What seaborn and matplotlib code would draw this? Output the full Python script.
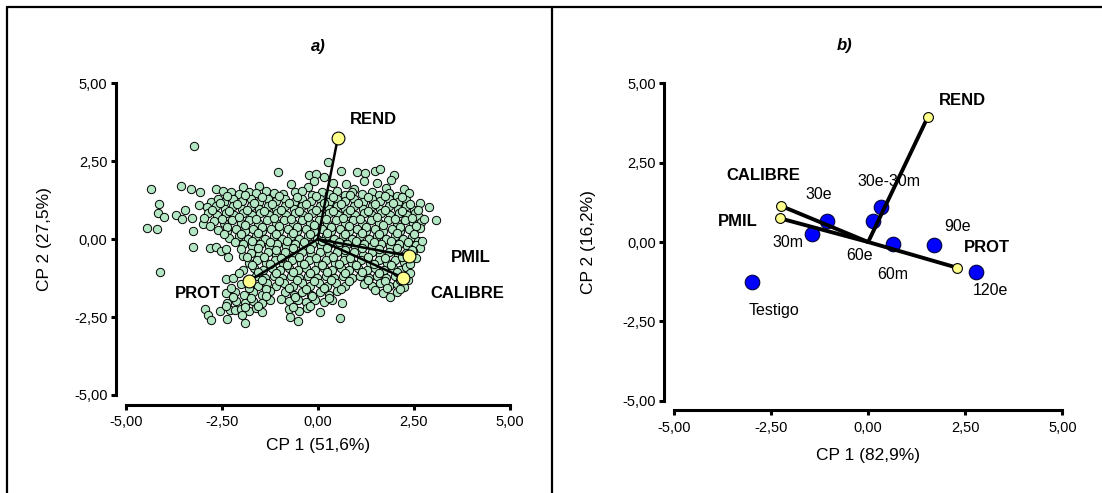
import matplotlib
matplotlib.use("Agg")
import matplotlib.pyplot as plt
import matplotlib.ticker as mticker
from matplotlib.lines import Line2D
import seaborn as sns

# ---- a) observaciones (CP1, CP2) ----
obs_a = [
    (0.26, 2.47), (-3.21, 3.00), (-4.35, 1.60), (-4.10, -1.07),
    (-1.03, 2.15), (-0.23, 2.06), (-0.05, 2.10), (0.60, 2.17), (1.01, 2.15), (1.24, 2.13),
    (1.48, 2.17), (1.63, 2.26), (1.99, 2.05), (0.15, 2.00),
    (-3.56, 1.71), (-3.30, 1.62), (-0.70, 1.77), (0.73, 1.76), (1.90, 1.89), (1.20, 1.85),
    (0.40, 1.80), (-0.10, 1.85), (1.55, 1.80), (-1.52, 1.71), (-1.95, 1.66), (-2.66, 1.62),
    (-0.25, 1.66), (2.23, 1.62), (0.95, 1.62), (1.78, 1.65),
    (-3.07, 1.52), (-2.47, 1.54), (-2.25, 1.50), (-2.05, 1.45), (-1.80, 1.52), (-1.60, 1.47),
    (-1.35, 1.55), (-1.15, 1.48), (-0.90, 1.45), (-0.60, 1.50), (-0.40, 1.55), (-0.15, 1.42),
    (0.10, 1.52), (0.30, 1.45), (0.50, 1.55), (0.70, 1.40), (0.90, 1.50), (1.15, 1.45),
    (1.40, 1.52), (1.60, 1.42), (1.85, 1.48), (2.05, 1.38), (2.38, 1.47),
    (-3.10, 1.10), (-2.78, 1.20), (-2.43, 1.20), (-2.60, 1.30), (-2.20, 1.28), (-1.98, 1.22),
    (-1.75, 1.30), (-1.52, 1.20), (-1.30, 1.28), (-1.08, 1.22), (-0.85, 1.30), (-0.62, 1.20),
    (-0.40, 1.28), (-0.18, 1.22), (0.05, 1.30), (0.28, 1.20), (0.50, 1.28), (0.72, 1.22),
    (0.95, 1.30), (1.18, 1.20), (1.40, 1.28), (1.62, 1.22), (1.85, 1.30), (2.08, 1.18),
    (2.30, 1.25), (2.66, 1.17), (2.90, 1.04),
    (-4.12, 1.13), (-3.46, 0.94), (-2.88, 1.02), (-2.65, 1.05), (-2.42, 0.98), (-2.20, 1.06),
    (-1.98, 0.98), (-1.75, 1.05), (-1.52, 0.98), (-1.30, 1.06), (-1.08, 0.98), (-0.85, 1.05),
    (-0.62, 0.98), (-0.40, 1.06), (-0.18, 0.98), (0.05, 1.05), (0.28, 0.98), (0.50, 1.06),
    (0.72, 0.98), (0.95, 1.05), (1.18, 0.98), (1.40, 1.06), (1.62, 0.98), (1.85, 1.05),
    (2.08, 0.98), (2.30, 1.05), (2.50, 0.95),
    (-4.17, 0.83), (-4.00, 0.70), (-3.69, 0.76), (-3.53, 0.65), (-3.27, 0.68), (-2.85, 0.85),
    (-2.62, 0.78), (-2.40, 0.85), (-2.18, 0.76), (-1.95, 0.84), (-1.72, 0.76), (-1.50, 0.84),
    (-1.28, 0.76), (-1.05, 0.84), (-0.82, 0.76), (-0.60, 0.84), (-0.38, 0.76), (-0.15, 0.84),
    (0.08, 0.76), (0.30, 0.84), (0.52, 0.76), (0.75, 0.84), (0.98, 0.76), (1.20, 0.84),
    (1.42, 0.76), (1.65, 0.84), (1.88, 0.76), (2.10, 0.84), (2.32, 0.76), (2.52, 0.85),
    (2.62, 0.70),
    (-2.98, 0.49), (-2.70, 0.58), (-2.45, 0.52), (-2.22, 0.60), (-2.00, 0.52), (-1.78, 0.60),
    (-1.55, 0.52), (-1.32, 0.60), (-1.10, 0.52), (-0.88, 0.60), (-0.65, 0.52), (-0.42, 0.60),
    (-0.20, 0.52), (0.02, 0.60), (0.25, 0.52), (0.48, 0.60), (0.70, 0.52), (0.92, 0.60),
    (1.15, 0.52), (1.38, 0.60), (1.60, 0.52), (1.82, 0.60), (2.05, 0.52), (2.28, 0.60),
    (2.48, 0.52), (3.07, 0.61), (2.68, 0.55),
    (-4.44, 0.36), (-4.19, 0.32), (-3.25, 0.27), (-2.60, 0.30), (-2.35, 0.25), (-2.12, 0.33),
    (-1.90, 0.26), (-1.68, 0.33), (-1.45, 0.26), (-1.22, 0.33), (-1.00, 0.26), (-0.78, 0.33),
    (-0.55, 0.26), (-0.32, 0.33), (-0.10, 0.26), (0.12, 0.33), (0.35, 0.26), (0.58, 0.33),
    (0.80, 0.26), (1.02, 0.33), (1.25, 0.26), (1.48, 0.33), (1.70, 0.26), (1.92, 0.33),
    (2.15, 0.26), (2.38, 0.33), (2.66, 0.36),
    (-2.30, 0.05), (-2.05, 0.10), (-1.82, 0.02), (-1.60, 0.10), (-1.38, 0.02), (-1.15, 0.10),
    (-0.92, 0.02), (-0.70, 0.10), (-0.48, 0.02), (-0.25, 0.10), (-0.02, 0.02), (0.20, 0.10),
    (0.42, 0.02), (0.65, 0.10), (0.88, 0.02), (1.10, 0.10), (1.32, 0.02), (1.55, 0.10),
    (1.78, 0.02), (2.00, 0.10), (2.22, 0.02), (2.45, 0.08), (2.60, -0.05),
    (-3.25, -0.25), (-2.81, -0.27), (-2.66, -0.25), (-2.52, -0.38), (-2.38, -0.33), (-2.34, -0.57),
    (-1.95, -0.15), (-1.72, -0.22), (-1.50, -0.15), (-1.28, -0.22), (-1.05, -0.15), (-0.82, -0.22),
    (-0.60, -0.15), (-0.38, -0.22), (-0.15, -0.15), (0.08, -0.22), (0.30, -0.15), (0.52, -0.22),
    (0.75, -0.15), (0.98, -0.22), (1.20, -0.15), (1.42, -0.22), (1.65, -0.15), (1.88, -0.22),
    (2.10, -0.15), (2.32, -0.22), (2.55, -0.18), (2.66, -0.27),
    (-1.95, -0.55), (-1.75, -0.45), (-1.52, -0.50), (-1.30, -0.42), (-1.08, -0.50), (-0.85, -0.42),
    (-0.62, -0.50), (-0.40, -0.42), (-0.18, -0.50), (0.05, -0.42), (0.28, -0.50), (0.50, -0.42),
    (0.72, -0.50), (0.95, -0.42), (1.18, -0.50), (1.40, -0.42), (1.62, -0.50), (1.85, -0.42),
    (2.08, -0.50), (2.30, -0.45), (2.48, -0.38),
    (-1.80, -0.75), (-1.58, -0.68), (-1.35, -0.75), (-1.12, -0.68), (-0.90, -0.75), (-0.68, -0.68),
    (-0.45, -0.75), (-0.22, -0.68), (0.00, -0.75), (0.22, -0.68), (0.45, -0.75), (0.68, -0.68),
    (0.90, -0.75), (1.12, -0.68), (1.35, -0.75), (1.58, -0.68), (1.80, -0.75), (2.02, -0.68),
    (2.25, -0.72),
    (-1.95, -0.98), (-1.65, -0.92), (-1.42, -1.00), (-1.20, -0.92), (-0.98, -1.00), (-0.75, -0.92),
    (-0.52, -1.00), (-0.30, -0.92), (-0.08, -1.00), (0.15, -0.92), (0.38, -1.00), (0.60, -0.92),
    (0.82, -1.00), (1.05, -0.92), (1.28, -1.00), (1.50, -0.92), (1.72, -1.00), (1.95, -0.92),
    (2.15, -1.00), (2.30, -0.90),
    (-2.38, -1.28), (-2.20, -1.24), (-1.60, -1.18), (-1.38, -1.25), (-1.15, -1.18), (-0.92, -1.25),
    (-0.70, -1.18), (-0.48, -1.25), (-0.25, -1.18), (-0.02, -1.25), (0.20, -1.18), (0.42, -1.25),
    (0.65, -1.18), (0.88, -1.25), (1.10, -1.18), (1.32, -1.25), (1.55, -1.18), (1.78, -1.25),
    (2.00, -1.18), (2.35, -1.30),
    (-2.00, -1.45), (-1.55, -1.50), (-1.32, -1.42), (-1.10, -1.50), (-0.88, -1.42), (-0.65, -1.50),
    (-0.42, -1.42), (-0.20, -1.50), (0.02, -1.42), (0.25, -1.50), (0.48, -1.42), (0.70, -1.50),
    (1.19, -1.43), (1.40, -1.50), (1.62, -1.42), (1.85, -1.50), (2.05, -1.45), (2.25, -1.55),
    (-2.38, -1.73), (-2.15, -1.70), (-1.92, -1.78), (-1.68, -1.70), (-1.45, -1.78), (-1.25, -1.68),
    (-0.85, -1.70), (-0.62, -1.78), (-0.40, -1.70), (-0.18, -1.78), (0.05, -1.70), (0.28, -1.78),
    (0.50, -1.68), (1.69, -1.73), (1.88, -1.86), (2.05, -1.70), (1.50, -1.62),
    (-2.35, -2.05), (-2.12, -1.98), (-1.90, -2.05), (-1.68, -1.98), (-1.45, -2.05), (-1.25, -1.95),
    (-0.96, -1.91), (-0.75, -2.00), (-0.52, -1.95), (-0.30, -2.02), (-0.08, -1.96), (0.15, -2.02),
    (0.38, -1.95), (0.64, -2.05),
    (-2.93, -2.25), (-2.86, -2.44), (-2.55, -2.30), (-2.29, -2.28), (-2.15, -2.28), (-2.01, -2.23),
    (-1.80, -2.30), (-1.60, -2.22), (-1.45, -2.35), (-0.75, -2.25), (-0.50, -2.30), (-0.28, -2.22),
    (0.05, -2.35),
    (-2.79, -2.59), (-2.35, -2.57), (-1.90, -2.68), (-1.97, -2.44), (-0.73, -2.49), (-0.52, -2.62),
    (0.57, -2.54),
    # segunda capa, nucleo denso
    (-2.35, 1.37), (-1.90, 1.40), (-1.45, 1.35), (-1.00, 1.39), (-0.55, 1.34), (-0.05, 1.38),
    (0.40, 1.35), (0.85, 1.40), (1.30, 1.36), (1.75, 1.39), (2.20, 1.35),
    (-2.55, 1.15), (-2.10, 1.12), (-1.65, 1.17), (-1.20, 1.13), (-0.75, 1.16), (-0.30, 1.12),
    (0.15, 1.17), (0.60, 1.13), (1.05, 1.16), (1.50, 1.12), (1.95, 1.17), (2.40, 1.13),
    (-2.75, 0.92), (-2.30, 0.90), (-1.85, 0.94), (-1.40, 0.90), (-0.95, 0.93), (-0.50, 0.90),
    (-0.05, 0.94), (0.40, 0.90), (0.85, 0.93), (1.30, 0.90), (1.75, 0.94), (2.20, 0.90),
    (2.60, 0.93),
    (-2.95, 0.68), (-2.50, 0.66), (-2.05, 0.70), (-1.60, 0.66), (-1.15, 0.69), (-0.70, 0.66),
    (-0.25, 0.70), (0.20, 0.66), (0.65, 0.69), (1.10, 0.66), (1.55, 0.70), (2.00, 0.66),
    (2.45, 0.69), (2.75, 0.66),
    (-2.80, 0.42), (-2.35, 0.40), (-1.90, 0.44), (-1.45, 0.40), (-1.00, 0.43), (-0.55, 0.40),
    (-0.10, 0.44), (0.35, 0.40), (0.80, 0.43), (1.25, 0.40), (1.70, 0.44), (2.15, 0.40),
    (2.55, 0.43),
    (-2.45, 0.18), (-2.00, 0.16), (-1.55, 0.20), (-1.10, 0.16), (-0.65, 0.19), (-0.20, 0.16),
    (0.25, 0.20), (0.70, 0.16), (1.15, 0.19), (1.60, 0.16), (2.05, 0.20), (2.50, 0.16),
    (-2.15, -0.08), (-1.70, -0.06), (-1.25, -0.10), (-0.80, -0.06), (-0.35, -0.09), (0.10, -0.06),
    (0.55, -0.10), (1.00, -0.06), (1.45, -0.09), (1.90, -0.06), (2.35, -0.10), (2.70, -0.06),
    (-2.00, -0.32), (-1.55, -0.30), (-1.10, -0.34), (-0.65, -0.30), (-0.20, -0.33), (0.25, -0.30),
    (0.70, -0.34), (1.15, -0.30), (1.60, -0.33), (2.05, -0.30), (2.45, -0.34),
    (-1.85, -0.58), (-1.40, -0.56), (-0.95, -0.60), (-0.50, -0.56), (-0.05, -0.59), (0.40, -0.56),
    (0.85, -0.60), (1.30, -0.56), (1.75, -0.59), (2.20, -0.56), (2.55, -0.60),
    (-1.70, -0.82), (-1.25, -0.80), (-0.80, -0.84), (-0.35, -0.80), (0.10, -0.83), (0.55, -0.80),
    (1.00, -0.84), (1.45, -0.80), (1.90, -0.83), (2.40, -0.80),
    (-2.05, -1.08), (-1.55, -1.06), (-1.10, -1.10), (-0.65, -1.06), (-0.20, -1.09), (0.25, -1.06),
    (0.70, -1.10), (1.15, -1.06), (1.60, -1.09), (2.05, -1.06), (2.40, -1.10),
    (-1.85, -1.32), (-1.45, -1.30), (-1.00, -1.34), (-0.55, -1.30), (-0.10, -1.33), (0.35, -1.30),
    (0.80, -1.34), (1.30, -1.30), (1.75, -1.33), (2.15, -1.30),
    (-2.25, -1.58), (-1.80, -1.56), (-1.35, -1.60), (-0.75, -1.56), (-0.30, -1.59), (0.15, -1.56),
    (0.60, -1.60), (1.80, -1.56), (2.15, -1.60),
    (-2.20, -1.85), (-1.75, -1.88), (-1.35, -1.84), (-0.60, -1.87), (-0.15, -1.84), (0.30, -1.88),
    (-2.40, -2.15), (-1.90, -2.18), (-1.55, -2.14), (-0.65, -2.17), (-0.20, -2.14),
]
cp1_a = [p[0] for p in obs_a]
cp2_a = [p[1] for p in obs_a]

# ---- a) variables ----
vars_a = ["REND", "PMIL", "CALIBRE", "PROT"]
vec1_a = [0.52, 2.37, 2.22, -1.80]
vec2_a = [3.24, -0.54, -1.24, -1.35]
lab1_a = [1.45, 3.97, 3.89, -3.13]   # posicion de las etiquetas
lab2_a = [3.84, -0.59, -1.73, -1.75]

# ---- b) tratamientos ----
trat_b = ["Testigo", "30e", "30m", "30e-30m", "60e", "60m", "90e", "120e"]
cp1_b = [-2.98, -1.06, -1.45, 0.32, 0.12, 0.63, 1.70, 2.78]
cp2_b = [-1.25, 0.67, 0.26, 1.09, 0.67, -0.05, -0.10, -0.95]
lab1_b = [-2.43, -1.27, -2.06, 0.53, -0.21, 0.63, 2.31, 3.16]
lab2_b = [-2.16, 1.51, -0.01, 1.92, -0.42, -1.01, 0.49, -1.54]

# ---- b) variables ----
vars_b = ["REND", "CALIBRE", "PMIL", "PROT"]
vec1_b = [1.54, -2.25, -2.28, 2.29]
vec2_b = [3.95, 1.14, 0.75, -0.81]
vlab1_b = [2.42, -2.69, -3.35, 3.06]
vlab2_b = [4.47, 2.10, 0.66, -0.17]

ticks = [-5, -2.5, 0, 2.5, 5]

sns.set_style("white")
plt.rcParams["font.family"] = ["Liberation Sans", "DejaVu Sans"]
plt.rcParams.update({"text.color": "black", "axes.labelcolor": "black",
                     "xtick.color": "black", "ytick.color": "black"})

fig = plt.figure(figsize=(11.02, 4.93), dpi=100)
ax_a = fig.add_axes([0.1140, 0.1988, 0.3488, 0.6323])
ax_b = fig.add_axes([0.6116, 0.1872, 0.3524, 0.6438])

coma = mticker.FuncFormatter(lambda v, pos: f"{v:.2f}".replace(".", ","))


def estilo(ax, xlab, ylab, ylab_x, xlab_y):
    ax.set_xlim(-5, 5)
    ax.set_ylim(-5, 5)
    ax.set_xticks(ticks)
    ax.set_yticks(ticks)
    ax.xaxis.set_major_formatter(coma)
    ax.yaxis.set_major_formatter(coma)
    for s in ["top", "right"]:
        ax.spines[s].set_visible(False)
    for s in ["left", "bottom"]:
        ax.spines[s].set_position(("outward", 7))
        ax.spines[s].set_linewidth(2.2)
        ax.spines[s].set_color("black")
    ax.tick_params(axis="both", direction="out", length=3.6, width=2.2,
                   colors="black", labelsize=10.5, left=True, bottom=True)
    ax.tick_params(axis="x", pad=4)
    ax.tick_params(axis="y", pad=2.5)
    ax.set_xlabel(xlab, fontsize=12.5)
    ax.set_ylabel(ylab, fontsize=12.5)
    ax.xaxis.set_label_coords(0.5, xlab_y)
    ax.yaxis.set_label_coords(ylab_x, 0.5)
    ax.xaxis.label.set_verticalalignment("center")
    ax.yaxis.label.set_verticalalignment("center")


# ---- panel a ----
sns.scatterplot(x=cp1_a, y=cp2_a, ax=ax_a, s=36, color="#B3E6C3",
                edgecolor="black", linewidth=0.7, zorder=2)
for i in range(len(vars_a)):
    ax_a.plot([0, vec1_a[i]], [0, vec2_a[i]], color="black", lw=1.8, zorder=3)
    ax_a.text(lab1_a[i], lab2_a[i], vars_a[i], fontsize=12, fontweight="bold",
              ha="center", va="center")
sns.scatterplot(x=vec1_a, y=vec2_a, ax=ax_a, s=85, color="#FFFF8C",
                edgecolor="black", linewidth=0.8, zorder=4)
estilo(ax_a, "CP 1 (51,6%)", "CP 2 (27,5%)", -0.2107, -0.1636)
ax_a.text(0.5, 1.118, "a)", transform=ax_a.transAxes, fontsize=12,
          fontweight="bold", fontstyle="italic", ha="center", va="center")

# ---- panel b ----
sns.scatterplot(x=cp1_b, y=cp2_b, ax=ax_b, s=110, color="#0000FF",
                edgecolor="#000040", linewidth=0.8, zorder=2)
for i in range(len(trat_b)):
    ax_b.text(lab1_b[i], lab2_b[i], trat_b[i], fontsize=11.5, ha="center", va="center")
for i in range(len(vars_b)):
    ax_b.plot([0, vec1_b[i]], [0, vec2_b[i]], color="black", lw=2.8, zorder=3)
    ax_b.text(vlab1_b[i], vlab2_b[i], vars_b[i], fontsize=12, fontweight="bold",
              ha="center", va="center")
sns.scatterplot(x=vec1_b, y=vec2_b, ax=ax_b, s=50, color="#FFFF8C",
                edgecolor="black", linewidth=0.8, zorder=4)
estilo(ax_b, "CP 1 (82,9%)", "CP 2 (16,2%)", -0.2197, -0.1733)
ax_b.text(0.44, 1.119, "b)", transform=ax_b.transAxes, fontsize=12,
          fontweight="bold", fontstyle="italic", ha="center", va="center")

# ---- marco de la tabla ----
top = 1 - 7.3 / 493
for xs, ys in [([7.3 / 1102, 1.0], [top, top]),
               ([7.3 / 1102, 7.3 / 1102], [0, top]),
               ([552 / 1102, 552 / 1102], [0, top])]:
    fig.add_artist(Line2D(xs, ys, transform=fig.transFigure, color="black", lw=1.6))

fig.savefig("out.png", dpi=100)
